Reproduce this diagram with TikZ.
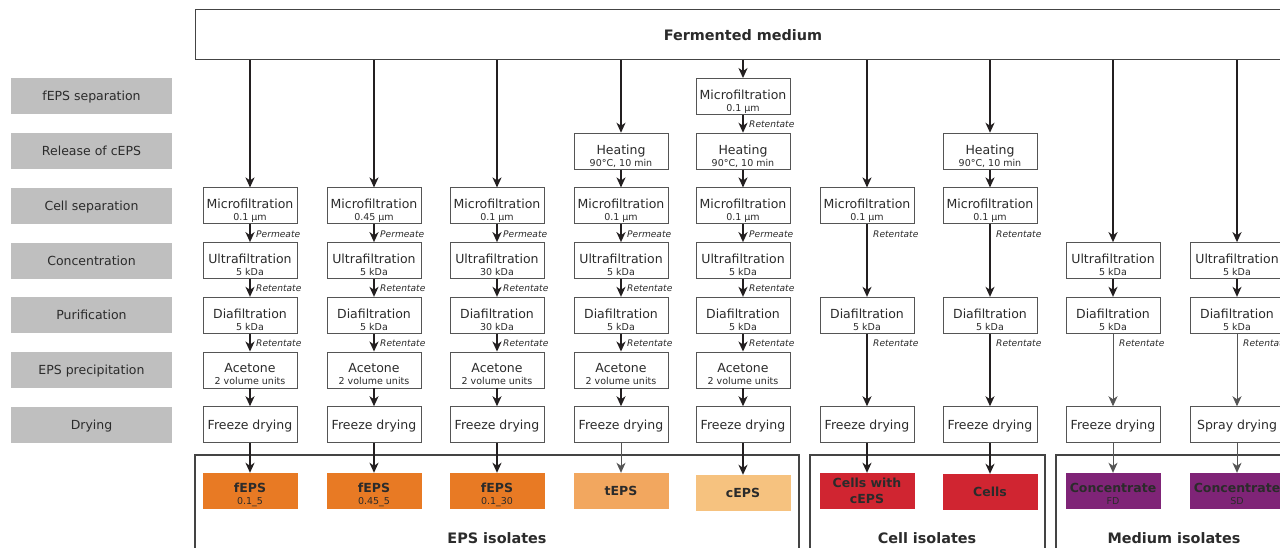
\documentclass[tikz,border=0pt]{standalone}
\usepackage{fontspec}
\setmainfont{DejaVu Sans}
\usetikzlibrary{arrows.meta}
\definecolor{txt}{HTML}{2B2B2B}
\definecolor{labgray}{HTML}{BFBFBF}
\definecolor{boxgray}{HTML}{555555}
\definecolor{arrowc}{HTML}{231F20}
\definecolor{grpc}{HTML}{444444}
\definecolor{fepsc}{HTML}{E87A24}
\definecolor{tepsc}{HTML}{F2A75F}
\definecolor{cepsc}{HTML}{F6C27F}
\definecolor{cellc}{HTML}{D02531}
\definecolor{concc}{HTML}{7F2477}
% two-line process box text: main line + small sub line
\newcommand\ptwo[2]{\rule{0pt}{20.3pt}#1\\[-2pt]{\fontsize{9.5}{10}\selectfont #2\rule[-2.5pt]{0pt}{2.5pt}}}
% two-line output box text: bold main line + small regular sub line
\newcommand\otwo[2]{\rule{0pt}{17.1pt}#1\\[-1pt]{\normalfont\fontsize{9.5}{10}\selectfont #2\rule[-2.5pt]{0pt}{2.5pt}}}
\tikzset{
  proc/.style={draw=boxgray, line width=0.9pt, fill=white, minimum width=94pt, minimum height=36pt,
    inner sep=0pt, align=center, font=\fontsize{12.5}{14}\selectfont, text=txt},
  one/.style={text height=9pt, text depth=0pt},
  lab/.style={fill=labgray, minimum width=161pt, minimum height=36pt, inner sep=0pt,
    font=\fontsize{12.5}{14}\selectfont, text=txt, text height=9pt, text depth=0pt},
  outp/.style={minimum width=95pt, minimum height=36pt, inner sep=0pt, align=center,
    font=\bfseries\fontsize{12.5}{13}\selectfont, text=txt},
  flow/.style={line width=2pt, draw=arrowc, -{Stealth[length=10pt,width=9pt,inset=3pt]}},
  mflow/.style={line width=1.5pt, draw=arrowc, -{Stealth[length=10pt,width=9pt,inset=3pt]}},
  thinflow/.style={line width=0.9pt, draw=boxgray, -{Stealth[length=10pt,width=9pt,inset=3pt]}},
  note/.style={font=\itshape\fontsize{9.1}{10}\selectfont, text=txt, anchor=west, inner sep=0pt},
  grp/.style={draw=grpc, line width=1.2pt},
  grplab/.style={font=\bfseries\fontsize{14.4}{16}\selectfont, text=txt}
}
\begin{document}
\begin{tikzpicture}[x=1pt,y=-1pt]
\clip (0,0) rectangle (1280,548);
\fill[white] (0,0) rectangle (1280,548);
\def\RA{96.5}\def\RB{151.2}\def\RC{205.9}\def\RD{260.6}\def\RE{315.3}\def\RF{370}\def\RG{424.7}\def\RO{491}
% group boxes
\draw[grp] (195,560) -- (195,455) -- (799,455) -- (799,560);
\draw[grp] (810,560) -- (810,455) -- (1045,455) -- (1045,560);
\draw[grp] (1056,560) -- (1056,455) -- (1300,455);
\node[grplab] (gl1) at (497,538) {EPS isolates};
\node[grplab] (gl2) at (927,538) {Cell isolates};
\node[grplab] (gl3) at (1174,538) {Medium isolates};
% top
\node[draw=grpc, line width=1pt, minimum width=1096pt, minimum height=50pt, inner sep=0pt,
  font=\bfseries\fontsize{14.4}{16}\selectfont, text=txt, text height=10.5pt, text depth=0pt] (top) at (743,35) {Fermented medium};
% stage labels
\node[lab] (l1) at (91.5,\RA) {fEPS separation};
\node[lab] (l2) at (91.5,\RB) {Release of cEPS};
\node[lab] (l3) at (91.5,\RC) {Cell separation};
\node[lab] (l4) at (91.5,\RD) {Concentration};
\node[lab] (l5) at (91.5,\RE) {Purification};
\node[lab] (l6) at (91.5,\RF) {EPS precipitation};
\node[lab] (l7) at (91.5,\RG) {Drying};
% column 1
\node[proc] (a3) at (250,\RC) {\ptwo{Microfiltration}{0.1 µm}};
\node[proc] (a4) at (250,\RD) {\ptwo{Ultrafiltration}{5 kDa}};
\node[proc] (a5) at (250,\RE) {\ptwo{Diafiltration}{5 kDa}};
\node[proc] (a6) at (250,\RF) {\ptwo{Acetone}{2 volume units}};
\node[proc,one] (a7) at (250,\RG) {Freeze drying};
\node[outp, fill=fepsc] (ao) at (250,\RO) {\otwo{fEPS}{0.1\_5}};
% column 2
\node[proc] (b3) at (374,\RC) {\ptwo{Microfiltration}{0.45 µm}};
\node[proc] (b4) at (374,\RD) {\ptwo{Ultrafiltration}{5 kDa}};
\node[proc] (b5) at (374,\RE) {\ptwo{Diafiltration}{5 kDa}};
\node[proc] (b6) at (374,\RF) {\ptwo{Acetone}{2 volume units}};
\node[proc,one] (b7) at (374,\RG) {Freeze drying};
\node[outp, fill=fepsc] (bo) at (374,\RO) {\otwo{fEPS}{0.45\_5}};
% column 3
\node[proc] (c3) at (497,\RC) {\ptwo{Microfiltration}{0.1 µm}};
\node[proc] (c4) at (497,\RD) {\ptwo{Ultrafiltration}{30 kDa}};
\node[proc] (c5) at (497,\RE) {\ptwo{Diafiltration}{30 kDa}};
\node[proc] (c6) at (497,\RF) {\ptwo{Acetone}{2 volume units}};
\node[proc,one] (c7) at (497,\RG) {Freeze drying};
\node[outp, fill=fepsc] (co) at (497,\RO) {\otwo{fEPS}{0.1\_30}};
% column 4
\node[proc] (d2) at (621,\RB) {\ptwo{Heating}{90°C, 10 min}};
\node[proc] (d3) at (621,\RC) {\ptwo{Microfiltration}{0.1 µm}};
\node[proc] (d4) at (621,\RD) {\ptwo{Ultrafiltration}{5 kDa}};
\node[proc] (d5) at (621,\RE) {\ptwo{Diafiltration}{5 kDa}};
\node[proc] (d6) at (621,\RF) {\ptwo{Acetone}{2 volume units}};
\node[proc,one] (d7) at (621,\RG) {Freeze drying};
\node[outp, fill=tepsc, one] (do) at (621,\RO) {tEPS};
% column 5
\node[proc] (e1) at (743,\RA) {\ptwo{Microfiltration}{0.1 µm}};
\node[proc] (e2) at (743,\RB) {\ptwo{Heating}{90°C, 10 min}};
\node[proc] (e3) at (743,\RC) {\ptwo{Microfiltration}{0.1 µm}};
\node[proc] (e4) at (743,\RD) {\ptwo{Ultrafiltration}{5 kDa}};
\node[proc] (e5) at (743,\RE) {\ptwo{Diafiltration}{5 kDa}};
\node[proc] (e6) at (743,\RF) {\ptwo{Acetone}{2 volume units}};
\node[proc,one] (e7) at (743,\RG) {Freeze drying};
\node[outp, fill=cepsc, one] (eo) at (743,\RO+2) {cEPS};
% column 6
\node[proc] (f3) at (867,\RC) {\ptwo{Microfiltration}{0.1 µm}};
\node[proc] (f5) at (867,\RE) {\ptwo{Diafiltration}{5 kDa}};
\node[proc,one] (f7) at (867,\RG) {Freeze drying};
\node[outp, fill=cellc] (fo) at (867,\RO) {Cells with\\[2.4pt]cEPS};
% column 7
\node[proc] (g2) at (990,\RB) {\ptwo{Heating}{90°C, 10 min}};
\node[proc] (g3) at (990,\RC) {\ptwo{Microfiltration}{0.1 µm}};
\node[proc] (g5) at (990,\RE) {\ptwo{Diafiltration}{5 kDa}};
\node[proc,one] (g7) at (990,\RG) {Freeze drying};
\node[outp, fill=cellc, one] (go) at (990,\RO+1) {Cells};
% column 8
\node[proc] (h4) at (1113,\RD) {\ptwo{Ultrafiltration}{5 kDa}};
\node[proc] (h5) at (1113,\RE) {\ptwo{Diafiltration}{5 kDa}};
\node[proc,one] (h7) at (1113,\RG) {Freeze drying};
\node[outp, fill=concc] (ho) at (1113,\RO) {\otwo{Concentrate}{FD}};
% column 9
\node[proc] (i4) at (1237,\RD) {\ptwo{Ultrafiltration}{5 kDa}};
\node[proc] (i5) at (1237,\RE) {\ptwo{Diafiltration}{5 kDa}};
\node[proc,one] (i7) at (1237,\RG) {Spray drying};
\node[outp, fill=concc] (io) at (1237,\RO) {\otwo{Concentrate}{SD}};
% arrows from top
\foreach \n in {a3,b3,c3,d2,e1,f3,g2,h4,i4}
  \draw[flow] (top.south -| \n.north) -- (\n.north);
% thick chain arrows
\foreach \s/\t in {a3/a4,a4/a5,a5/a6,a6/a7,a7/ao,b3/b4,b4/b5,b5/b6,b6/b7,b7/bo,
  c3/c4,c4/c5,c5/c6,c6/c7,c7/co,d2/d3,d3/d4,d4/d5,d5/d6,d6/d7,
  e1/e2,e2/e3,e3/e4,e4/e5,e5/e6,e6/e7,e7/eo,f3/f5,f5/f7,f7/fo,g2/g3,g3/g5,g5/g7,g7/go}
  \draw[flow] (\s) -- (\t);
\draw[thinflow] (d7) -- (do);
\draw[mflow] (h4) -- (h5);
\draw[mflow] (i4) -- (i5);
\foreach \s/\t in {h5/h7,h7/ho,i5/i7,i7/io}
  \draw[thinflow] (\s) -- (\t);
% arrow notes
\foreach \s/\w/\k in {a3/Permeate/1,a4/Retentate/2,a5/Retentate/3,b3/Permeate/4,b4/Retentate/5,b5/Retentate/6,
  c3/Permeate/7,c4/Retentate/8,c5/Retentate/9,d3/Permeate/10,d4/Retentate/11,d5/Retentate/12,
  e1/Retentate/13,e3/Permeate/14,e4/Retentate/15,e5/Retentate/16,f3/Retentate/17,f5/Retentate/18,
  g3/Retentate/19,g5/Retentate/20,h5/Retentate/21,i5/Retentate/22}
  \node[note] (n\k) at ([xshift=6pt,yshift=-9.5pt]\s.south) {\w};
\end{tikzpicture}
\end{document}
